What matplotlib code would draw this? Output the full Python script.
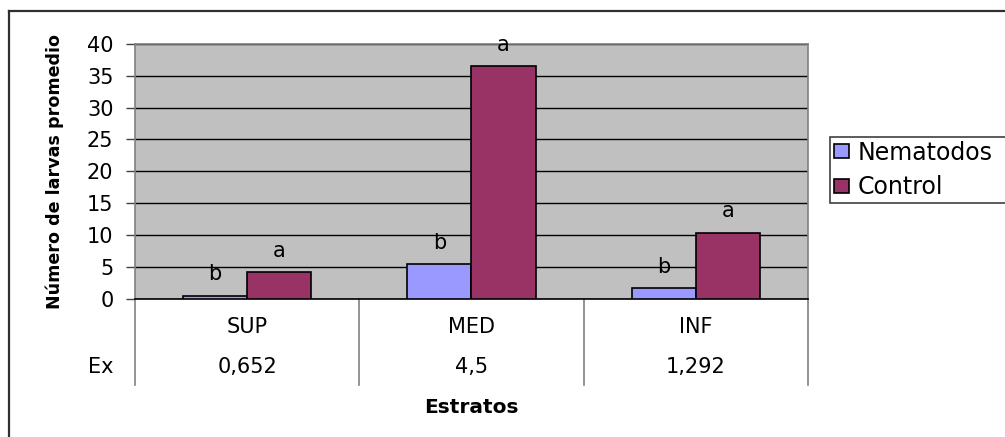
import matplotlib
matplotlib.use("Agg")
import numpy as np
from matplotlib import pyplot as plt
from matplotlib.lines import Line2D
import matplotlib.transforms as mtransforms

# datos
estratos = ['SUP', 'MED', 'INF']
ex_valores = ['0,652', '4,5', '1,292']
nematodos = [0.45, 5.45, 1.65]
control = [4.2, 36.5, 10.35]
letras_nem = ['b', 'b', 'b']
letras_ctrl = ['a', 'a', 'a']
yticks = [0, 5, 10, 15, 20, 25, 30, 35, 40]

plt.rcParams['font.family'] = ['DejaVu Sans']
plt.rcParams['font.size'] = 15

fig = plt.figure(figsize=(10.05, 4.37), dpi=100)
ax = fig.add_axes([0.1343, 0.3169, 0.804 - 0.1343, 0.8993 - 0.3169])
ax.set_facecolor('#c0c0c0')

x = np.arange(len(estratos))
w = 1 / 3.5
ax.bar(x - w / 2, nematodos, w, color='#9999ff', edgecolor='black', linewidth=1.2,
       label='Nematodos', zorder=3)
ax.bar(x + w / 2, control, w, color='#993366', edgecolor='black', linewidth=1.2,
       label='Control', zorder=3)

for xi, v, t in zip(x - w / 2, nematodos, letras_nem):
    ax.annotate(t, (xi, v), xytext=(0, 11), textcoords='offset points',
                ha='center', va='baseline', fontsize=15)
for xi, v, t in zip(x + w / 2, control, letras_ctrl):
    ax.annotate(t, (xi, v), xytext=(0, 11), textcoords='offset points',
                ha='center', va='baseline', fontsize=15, annotation_clip=False)

ax.set_xlim(-0.5, len(estratos) - 0.5)
ax.set_ylim(0, 40)
ax.set_yticks(yticks)
ax.set_xticks([])
ax.yaxis.grid(True, color='black', linewidth=1, zorder=1)
ax.set_axisbelow(True)
ax.tick_params(axis='y', length=6.5, width=1, color='#404040', pad=9, labelsize=15)

for s in ['left', 'right', 'top']:
    ax.spines[s].set_color('#808080')
    ax.spines[s].set_linewidth(1.2)
ax.spines['bottom'].set_color('black')
ax.spines['bottom'].set_linewidth(1.2)

# tabla de datos bajo el eje
trans = mtransforms.blended_transform_factory(ax.transData, ax.transAxes)
for b in np.arange(len(estratos) + 1) - 0.5:
    ax.add_line(Line2D([b, b], [0, -0.34], transform=trans, color='#808080',
                       linewidth=1.2, clip_on=False))
for xi, cat, ex in zip(x, estratos, ex_valores):
    ax.text(xi, -0.112, cat, transform=trans, ha='center', va='center', fontsize=15)
    ax.text(xi, -0.271, ex, transform=trans, ha='center', va='center', fontsize=15)
ax.text(-0.032, -0.271, 'Ex', transform=ax.transAxes, ha='right', va='center', fontsize=15)

ax.text(0.5, -0.427, 'Estratos', transform=ax.transAxes, ha='center', va='center',
        fontsize=14.5, fontweight='bold')
ax.text(-0.119, 0.5, 'Número de larvas promedio', transform=ax.transAxes, rotation=90,
        ha='center', va='center', fontsize=12.6, fontweight='bold')

leg = fig.legend(loc='upper left', bbox_to_anchor=(830 / 1005, 1 - 137 / 437, 0.2, 0.0),
                 mode='expand', fancybox=False, framealpha=1, edgecolor='#404040',
                 handlelength=0.64, handleheight=0.52, handletextpad=0.4,
                 borderpad=0.15, labelspacing=0.45, borderaxespad=0, fontsize=17)
leg.get_frame().set_linewidth(1.2)

# marco exterior
fig.add_artist(Line2D([8.5 / 1005, 8.5 / 1005], [0, 1 - 11 / 437], transform=fig.transFigure,
                      color='#303030', linewidth=1.6))
fig.add_artist(Line2D([8.5 / 1005, 1], [1 - 11 / 437, 1 - 11 / 437], transform=fig.transFigure,
                      color='#303030', linewidth=1.6))

fig.savefig('out.png', dpi=100)
